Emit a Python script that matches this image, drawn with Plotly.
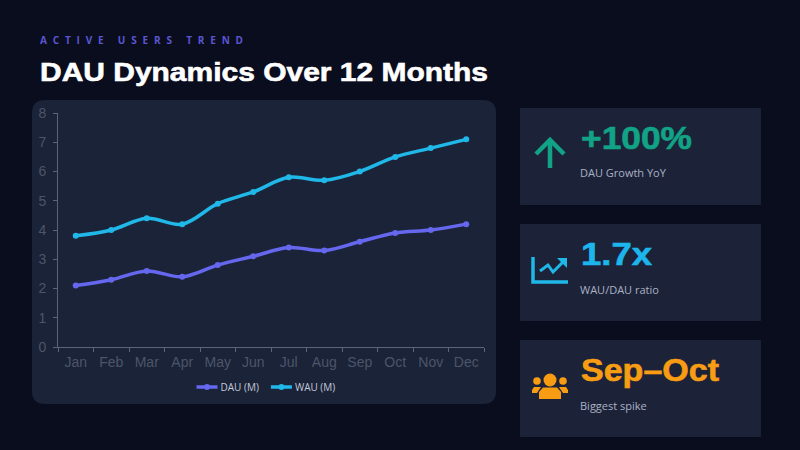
import plotly.graph_objects as go

months = ['Jan', 'Feb', 'Mar', 'Apr', 'May', 'Jun', 'Jul', 'Aug', 'Sep', 'Oct', 'Nov', 'Dec']
dau = [2.1, 2.3, 2.6, 2.4, 2.8, 3.1, 3.4, 3.3, 3.6, 3.9, 4.0, 4.2]
wau = [3.8, 4.0, 4.4, 4.2, 4.9, 5.3, 5.8, 5.7, 6.0, 6.5, 6.8, 7.1]
y_ticks = [0, 1, 2, 3, 4, 5, 6, 7, 8]

card_values = ['+100%', '1.7x', 'Sep–Oct']
card_labels = ['DAU Growth YoY', 'WAU/DAU ratio', 'Biggest spike']
card_colors = ['#12a286', '#1cb6ec', '#f89d13']

W, H = 800, 450
BG = '#0a0d1e'
PANEL = '#1b2338'
CARD = '#1c2339'
INDIGO = '#6567ee'
CYAN = '#20b8e8'
TEAL = '#12a286'
ORANGE = '#f89d13'


def px(x):
    return x / W


def py(y):
    return 1 - y / H


def rounded_rect(x0, y0, x1, y1, r):
    return (f'M{px(x0 + r)},{py(y0)} L{px(x1 - r)},{py(y0)} Q{px(x1)},{py(y0)} {px(x1)},{py(y0 + r)} '
            f'L{px(x1)},{py(y1 - r)} Q{px(x1)},{py(y1)} {px(x1 - r)},{py(y1)} '
            f'L{px(x0 + r)},{py(y1)} Q{px(x0)},{py(y1)} {px(x0)},{py(y1 - r)} '
            f'L{px(x0)},{py(y0 + r)} Q{px(x0)},{py(y0)} {px(x0 + r)},{py(y0)} Z')


def poly(points, close=False):
    d = 'M' + ' L'.join(f'{px(x)},{py(y)}' for x, y in points)
    return d + (' Z' if close else '')


def filled(path, color, layer='below'):
    return dict(type='path', xref='paper', yref='paper', path=path, fillcolor=color,
                line=dict(width=0), layer=layer)


def stroked(path, color, width):
    return dict(type='path', xref='paper', yref='paper', path=path,
                line=dict(color=color, width=width), layer='above')


def circle(cx, cy, r, color):
    return dict(type='circle', xref='paper', yref='paper', x0=px(cx - r), x1=px(cx + r),
                y0=py(cy + r), y1=py(cy - r), fillcolor=color, line=dict(width=0), layer='above')


def label(x, y, text, size, color, family='Liberation Sans', bold=False):
    if bold:
        text = f'<b>{text}</b>'
    return dict(xref='paper', yref='paper', x=px(x), y=py(y), text=text, showarrow=False,
                xanchor='left', yanchor='middle', align='left',
                font=dict(size=size, color=color, family=family))


shapes = [filled(rounded_rect(32, 100, 496, 404, 13), PANEL)]
for top in [108, 224, 340]:
    shapes.append(filled(rounded_rect(520, top, 761, top + 97, 1), CARD))

# arrow icon
shapes.append(stroked(poly([(550, 168), (550, 140)]), TEAL, 4.5))
shapes.append(stroked(poly([(536, 154), (550, 140), (564, 154)]), TEAL, 4.5))

# trend icon
shapes.append(stroked(poly([(533, 257), (533, 282), (568, 282)]), CYAN, 3.5))
shapes.append(stroked(poly([(540, 271), (548, 265), (553, 272), (563, 262)]), CYAN, 3))
shapes.append(filled(poly([(557, 258), (567, 258), (567, 268)], close=True), CYAN, 'above'))

# users icon
shapes.append(circle(550, 380, 6.5, ORANGE))
shapes.append(circle(537, 381, 3.8, ORANGE))
shapes.append(circle(563, 381, 3.8, ORANGE))
shapes.append(filled(poly([(539, 399), (539, 392), (543, 387.5), (557, 387.5), (561, 392), (561, 399)], close=True), ORANGE, 'above'))
shapes.append(filled(poly([(532, 393), (532, 390), (534, 387), (541, 387), (537, 393)], close=True), ORANGE, 'above'))
shapes.append(filled(poly([(568, 393), (568, 390), (566, 387), (559, 387), (563, 393)], close=True), ORANGE, 'above'))

annotations = [
    label(38, 40.5, 'ACTIVE USERS TREND', 10, '#5a56d2', 'Open Sans', bold=True),
    label(38, 72, 'DAU Dynamics Over 12 Months', 26, '#ffffff', bold=True),
]
for i, top in enumerate([108, 224, 340]):
    annotations.append(label(579, top + 30, card_values[i], 31, card_colors[i], bold=True))
    annotations.append(label(578, top + 65, card_labels[i], 11, '#aab1c4', 'Open Sans'))

fig = go.Figure()
fig.add_trace(go.Scatter(x=months, y=dau, name='DAU (M)', mode='lines+markers',
                         line=dict(color=INDIGO, width=3.5, shape='spline', smoothing=1),
                         marker=dict(color=INDIGO, size=6)))
fig.add_trace(go.Scatter(x=months, y=wau, name='WAU (M)', mode='lines+markers',
                         line=dict(color=CYAN, width=3.5, shape='spline', smoothing=1),
                         marker=dict(color=CYAN, size=6)))

fig.update_layout(
    width=W, height=H,
    margin=dict(l=0, r=0, t=0, b=0, autoexpand=False),
    paper_bgcolor=BG,
    plot_bgcolor='rgba(0,0,0,0)',
    shapes=shapes,
    annotations=annotations,
    legend=dict(orientation='h', x=px(266), xanchor='center', y=py(387), yanchor='middle',
                font=dict(size=10, color='#c3c9d8', family='Open Sans'),
                bgcolor='rgba(0,0,0,0)', itemwidth=30),
)
fig.update_xaxes(domain=[px(58), px(484)], range=[-0.5, 11.5], tickson='boundaries', ticks='outside', ticklen=4,
                 tickcolor='#5b6478', linecolor='#5b6478', linewidth=1, showgrid=False, tickangle=0,
                 ticklabelstandoff=2,
                 tickfont=dict(size=14, color='#4c5569', family='Liberation Sans'))
fig.update_yaxes(domain=[py(347), py(113)], range=[0, 8], tickvals=y_ticks, ticks='outside', ticklen=4,
                 tickcolor='#5b6478', linecolor='#5b6478', linewidth=1, showgrid=False, zeroline=False,
                 ticklabelstandoff=4,
                 tickfont=dict(size=14, color='#4c5569', family='Liberation Sans'))

# plotly has no letter spacing, so the stretched texts get fixed widths here,
# and the legend samples are cut down to the shorter ones of the picture
post = """
document.body.style.margin = '0';
document.body.style.overflow = 'hidden';
var widths = {'ACTIVE USERS TREND': 203, 'DAU Dynamics Over 12 Months': 448,
              '+100%': 111, '1.7x': 71, 'Sep–Oct': 138};
document.querySelectorAll('.annotation-text').forEach(function (t) {
    var w = widths[t.textContent];
    if (!w) return;
    t.setAttribute('textLength', w);
    if (t.textContent === 'ACTIVE USERS TREND') {
        t.setAttribute('lengthAdjust', 'spacing');
    } else {
        t.setAttribute('lengthAdjust', 'spacingAndGlyphs');
        t.style.stroke = getComputedStyle(t).fill;
        t.style.strokeWidth = '0.6px';
    }
});
var shifts = [1, -8];
document.querySelectorAll('.legend .traces').forEach(function (g, i) {
    g.querySelectorAll('.legendlines path').forEach(function (p) { p.setAttribute('d', 'M14,0h21'); });
    g.querySelectorAll('.legendpoints path').forEach(function (p) { p.setAttribute('transform', 'translate(24.5,0)'); });
    g.querySelector('.legendtext').setAttribute('x', 38);
    var m = g.getAttribute('transform').match(/translate\\(([-\\d.]+)[, ]+([-\\d.]+)\\)/);
    g.setAttribute('transform', 'translate(' + (parseFloat(m[1]) + shifts[i]) + ',' + m[2] + ')');
});
"""
fig.write_html("out.html", post_script=post, config=dict(displayModeBar=False))
